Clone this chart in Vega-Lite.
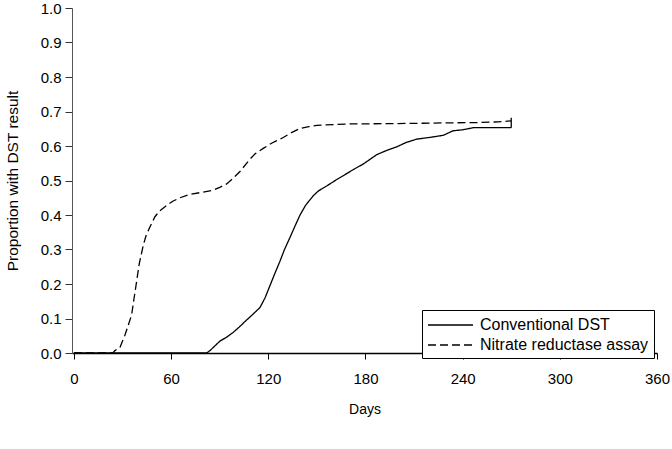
{
  "$schema": "https://vega.github.io/schema/vega-lite/v6.json",
  "width": 585,
  "height": 345,
  "autosize": "none",
  "padding": {"left": 72, "top": 8, "right": 15, "bottom": 96},
  "background": "white",
  "config": {
    "view": {"stroke": null},
    "font": "Liberation Sans",
    "axis": {"grid": false, "labelColor": "black", "titleColor": "black", "titleFontWeight": "normal", "labelFontSize": 15, "titleFontSize": 14, "labelOverlap": false}
  },
  "encoding": {
    "x": {
      "field": "day", "type": "quantitative",
      "scale": {"domain": [-1.2, 360], "nice": false, "zero": false},
      "axis": {"values": [0, 60, 120, 180, 240, 300, 360], "tickSize": 6, "labelPadding": 12, "domainColor": "black", "tickColor": "black", "domainWidth": 1.5, "title": "Days", "titlePadding": 16, "labelFlush": false}
    },
    "y": {
      "field": "p", "type": "quantitative",
      "scale": {"domain": [0, 1], "nice": false},
      "axis": {"values": [0, 0.1, 0.2, 0.3, 0.4, 0.5, 0.6, 0.7, 0.8, 0.9, 1.0], "format": ".1f", "tickSize": 7, "labelPadding": 4, "domainColor": "#555", "tickColor": "#333", "title": "Proportion with DST result", "titleFontSize": 15.5, "titlePadding": 20, "labelFlush": false}
    }
  },
  "layer": [
    {
      "data": {
        "values": [
          {"day": 0, "p": 0, "series": "Conventional DST"},
          {"day": 82, "p": 0, "series": "Conventional DST"},
          {"day": 84, "p": 0.007, "series": "Conventional DST"},
          {"day": 90, "p": 0.034, "series": "Conventional DST"},
          {"day": 94, "p": 0.045, "series": "Conventional DST"},
          {"day": 98.4, "p": 0.06, "series": "Conventional DST"},
          {"day": 102, "p": 0.075, "series": "Conventional DST"},
          {"day": 106.7, "p": 0.096, "series": "Conventional DST"},
          {"day": 110, "p": 0.11, "series": "Conventional DST"},
          {"day": 114.9, "p": 0.132, "series": "Conventional DST"},
          {"day": 118, "p": 0.16, "series": "Conventional DST"},
          {"day": 121, "p": 0.195, "series": "Conventional DST"},
          {"day": 124, "p": 0.23, "series": "Conventional DST"},
          {"day": 127.2, "p": 0.266, "series": "Conventional DST"},
          {"day": 130, "p": 0.3, "series": "Conventional DST"},
          {"day": 133.4, "p": 0.335, "series": "Conventional DST"},
          {"day": 136.5, "p": 0.368, "series": "Conventional DST"},
          {"day": 139.6, "p": 0.4, "series": "Conventional DST"},
          {"day": 143, "p": 0.428, "series": "Conventional DST"},
          {"day": 147.8, "p": 0.456, "series": "Conventional DST"},
          {"day": 151, "p": 0.47, "series": "Conventional DST"},
          {"day": 156, "p": 0.484, "series": "Conventional DST"},
          {"day": 162, "p": 0.502, "series": "Conventional DST"},
          {"day": 166.3, "p": 0.514, "series": "Conventional DST"},
          {"day": 173, "p": 0.533, "series": "Conventional DST"},
          {"day": 178.7, "p": 0.548, "series": "Conventional DST"},
          {"day": 183, "p": 0.562, "series": "Conventional DST"},
          {"day": 187, "p": 0.575, "series": "Conventional DST"},
          {"day": 193, "p": 0.587, "series": "Conventional DST"},
          {"day": 199, "p": 0.597, "series": "Conventional DST"},
          {"day": 205, "p": 0.61, "series": "Conventional DST"},
          {"day": 211.7, "p": 0.62, "series": "Conventional DST"},
          {"day": 220, "p": 0.625, "series": "Conventional DST"},
          {"day": 228, "p": 0.631, "series": "Conventional DST"},
          {"day": 234, "p": 0.644, "series": "Conventional DST"},
          {"day": 240, "p": 0.647, "series": "Conventional DST"},
          {"day": 246.6, "p": 0.653, "series": "Conventional DST"},
          {"day": 270, "p": 0.653, "series": "Conventional DST"},
          {"day": 0, "p": 0, "series": "Nitrate reductase assay"},
          {"day": 24, "p": 0, "series": "Nitrate reductase assay"},
          {"day": 25.3, "p": 0.007, "series": "Nitrate reductase assay"},
          {"day": 28.4, "p": 0.016, "series": "Nitrate reductase assay"},
          {"day": 31.5, "p": 0.052, "series": "Nitrate reductase assay"},
          {"day": 33.5, "p": 0.08, "series": "Nitrate reductase assay"},
          {"day": 35.6, "p": 0.11, "series": "Nitrate reductase assay"},
          {"day": 37, "p": 0.155, "series": "Nitrate reductase assay"},
          {"day": 38.3, "p": 0.195, "series": "Nitrate reductase assay"},
          {"day": 40.3, "p": 0.258, "series": "Nitrate reductase assay"},
          {"day": 42.8, "p": 0.312, "series": "Nitrate reductase assay"},
          {"day": 44.5, "p": 0.34, "series": "Nitrate reductase assay"},
          {"day": 46.9, "p": 0.365, "series": "Nitrate reductase assay"},
          {"day": 50, "p": 0.395, "series": "Nitrate reductase assay"},
          {"day": 53, "p": 0.412, "series": "Nitrate reductase assay"},
          {"day": 57.3, "p": 0.428, "series": "Nitrate reductase assay"},
          {"day": 61, "p": 0.44, "series": "Nitrate reductase assay"},
          {"day": 65.5, "p": 0.45, "series": "Nitrate reductase assay"},
          {"day": 71.6, "p": 0.46, "series": "Nitrate reductase assay"},
          {"day": 78, "p": 0.465, "series": "Nitrate reductase assay"},
          {"day": 85.9, "p": 0.472, "series": "Nitrate reductase assay"},
          {"day": 90, "p": 0.48, "series": "Nitrate reductase assay"},
          {"day": 94.3, "p": 0.49, "series": "Nitrate reductase assay"},
          {"day": 98, "p": 0.505, "series": "Nitrate reductase assay"},
          {"day": 102.5, "p": 0.526, "series": "Nitrate reductase assay"},
          {"day": 108.7, "p": 0.562, "series": "Nitrate reductase assay"},
          {"day": 112, "p": 0.578, "series": "Nitrate reductase assay"},
          {"day": 116.9, "p": 0.593, "series": "Nitrate reductase assay"},
          {"day": 122, "p": 0.608, "series": "Nitrate reductase assay"},
          {"day": 129, "p": 0.624, "series": "Nitrate reductase assay"},
          {"day": 134, "p": 0.638, "series": "Nitrate reductase assay"},
          {"day": 139.6, "p": 0.651, "series": "Nitrate reductase assay"},
          {"day": 145, "p": 0.656, "series": "Nitrate reductase assay"},
          {"day": 150, "p": 0.66, "series": "Nitrate reductase assay"},
          {"day": 170.5, "p": 0.664, "series": "Nitrate reductase assay"},
          {"day": 200, "p": 0.665, "series": "Nitrate reductase assay"},
          {"day": 230, "p": 0.667, "series": "Nitrate reductase assay"},
          {"day": 250, "p": 0.668, "series": "Nitrate reductase assay"},
          {"day": 262, "p": 0.67, "series": "Nitrate reductase assay"},
          {"day": 270, "p": 0.673, "series": "Nitrate reductase assay"}
        ]
      },
      "mark": {"type": "line", "color": "black", "strokeWidth": 1.3},
      "encoding": {
        "strokeDash": {
          "field": "series", "type": "nominal",
          "scale": {"domain": ["Conventional DST", "Nitrate reductase assay"], "range": [[1, 0], [8, 4]]},
          "legend": {
            "title": null, "orient": "none", "legendX": 350, "legendY": 302,
            "direction": "vertical", "strokeColor": "black", "fillColor": "white", "padding": 5,
            "symbolType": "M-2.5,0H2.5", "symbolSize": 324, "symbolOffset": 13.5, "symbolStrokeWidth": 1.3, "symbolStrokeColor": "black",
            "labelFontSize": 16, "labelColor": "black", "labelOffset": 19.5, "labelLimit": 300, "rowPadding": 2
          }
        }
      }
    },
    {
      "data": {"values": [{"day": 270, "p": 0.653, "hi": 0.682}]},
      "mark": {"type": "rule", "color": "black", "strokeWidth": 1.3},
      "encoding": {
        "y2": {"field": "hi"}
      }
    }
  ]
}
